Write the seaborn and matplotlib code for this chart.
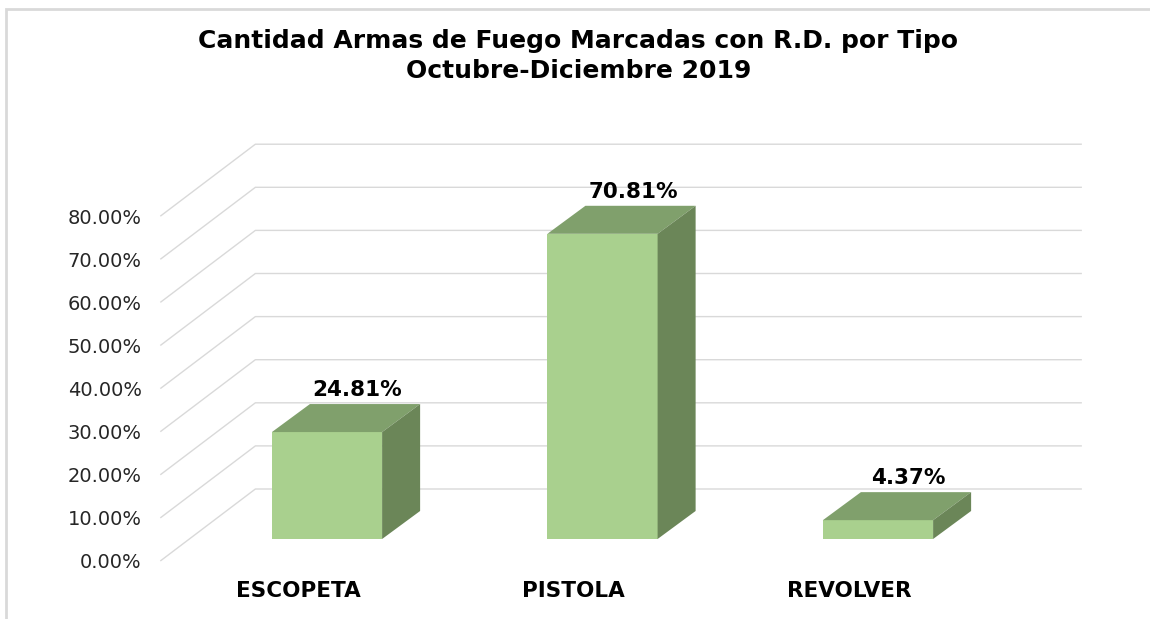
import matplotlib
matplotlib.use("Agg")
import matplotlib.pyplot as plt
import seaborn as sns
import pandas as pd

# data
tipos = ["ESCOPETA", "PISTOLA", "REVOLVER"]
porcentajes = [24.81, 70.81, 4.37]
etiquetas = ["24.81%", "70.81%", "4.37%"]
ticks_y = [0, 10, 20, 30, 40, 50, 60, 70, 80]

# colours
c_front = "#A9D08E"
c_top = "#80A06C"
c_side = "#6B8658"
c_grid = "#D9D9D9"

# fake 3d geometry (data units: x = category, y = percent)
BAR_W = 0.4
DX, DY = 0.138, 6.5          # bar depth
FX, FY = -0.105, -5.1        # front wall relative to bar front faces
WX, WY = 0.345, 16.7         # full depth of the wall

sns.set_style("white")
plt.rcParams["font.family"] = ["DejaVu Sans"]

fig = plt.figure(figsize=(11.5, 6.19), dpi=100)
ax = fig.add_axes([150 / 1150, (619 - 570) / 619, 970 / 1150, 440 / 619])

df = pd.DataFrame({"tipo": tipos, "pct": porcentajes})
sns.barplot(data=df, x="tipo", y="pct", color=c_front, saturation=1,
            width=BAR_W, ax=ax, zorder=3, linewidth=0)

# grid: diagonal on the left wall + horizontal on the back wall
x0 = -0.5 + FX
x1 = len(tipos) - 0.5 + FX + WX
for v in ticks_y:
    ax.plot([x0, x0 + WX, x1], [v + FY, v + FY + WY, v + FY + WY],
            color=c_grid, lw=1.0, zorder=1, solid_capstyle="butt")

# top and side faces of the bars
for i, v in enumerate(porcentajes):
    xl, xr = i - BAR_W / 2, i + BAR_W / 2
    ax.fill([xl, xr, xr + DX, xl + DX], [v, v, v + DY, v + DY],
            color=c_top, zorder=3, lw=0)
    ax.fill([xr, xr + DX, xr + DX, xr], [0, DY, v + DY, v],
            color=c_side, zorder=3, lw=0)
    ax.text(i + DX * 0.8, v + DY + 1.9, etiquetas[i], ha="center",
            va="baseline", fontsize=15.5, fontweight="bold", color="black",
            zorder=4)

ax.set_xlim((150 - 327) / 275.5, (1120 - 327) / 275.5)
ax.set_ylim((539 - 570) / 4.31, (539 - 130) / 4.31)

ax.set_yticks([v + FY for v in ticks_y])
ax.set_yticklabels([f"{v:.2f}%" for v in ticks_y])
ax.set_xticks([i + FX for i in range(len(tipos))])
ax.set_xticklabels(tipos)
ax.tick_params(axis="y", length=0, pad=6, labelsize=14, labelcolor="#262626")
ax.tick_params(axis="x", length=0, pad=8, labelsize=15.5, labelcolor="black")
for lab in ax.get_xticklabels():
    lab.set_fontweight("bold")
ax.set_xlabel("")
ax.set_ylabel("")
for s in ax.spines.values():
    s.set_visible(False)

fig.text(0.503, 1 - 56 / 619,
         "Cantidad Armas de Fuego Marcadas con R.D. por Tipo\nOctubre-Diciembre 2019",
         ha="center", va="center", fontsize=18, fontweight="bold",
         color="black", linespacing=1.35)

# chart border (only top and left edges fall inside the picture)
fig.add_artist(plt.Rectangle((6 / 1150, -0.1), 1.2, 1 - 9 / 619 + 0.1,
                             transform=fig.transFigure, fill=False,
                             edgecolor=c_grid, lw=2))

fig.savefig("out.png", dpi=100)
